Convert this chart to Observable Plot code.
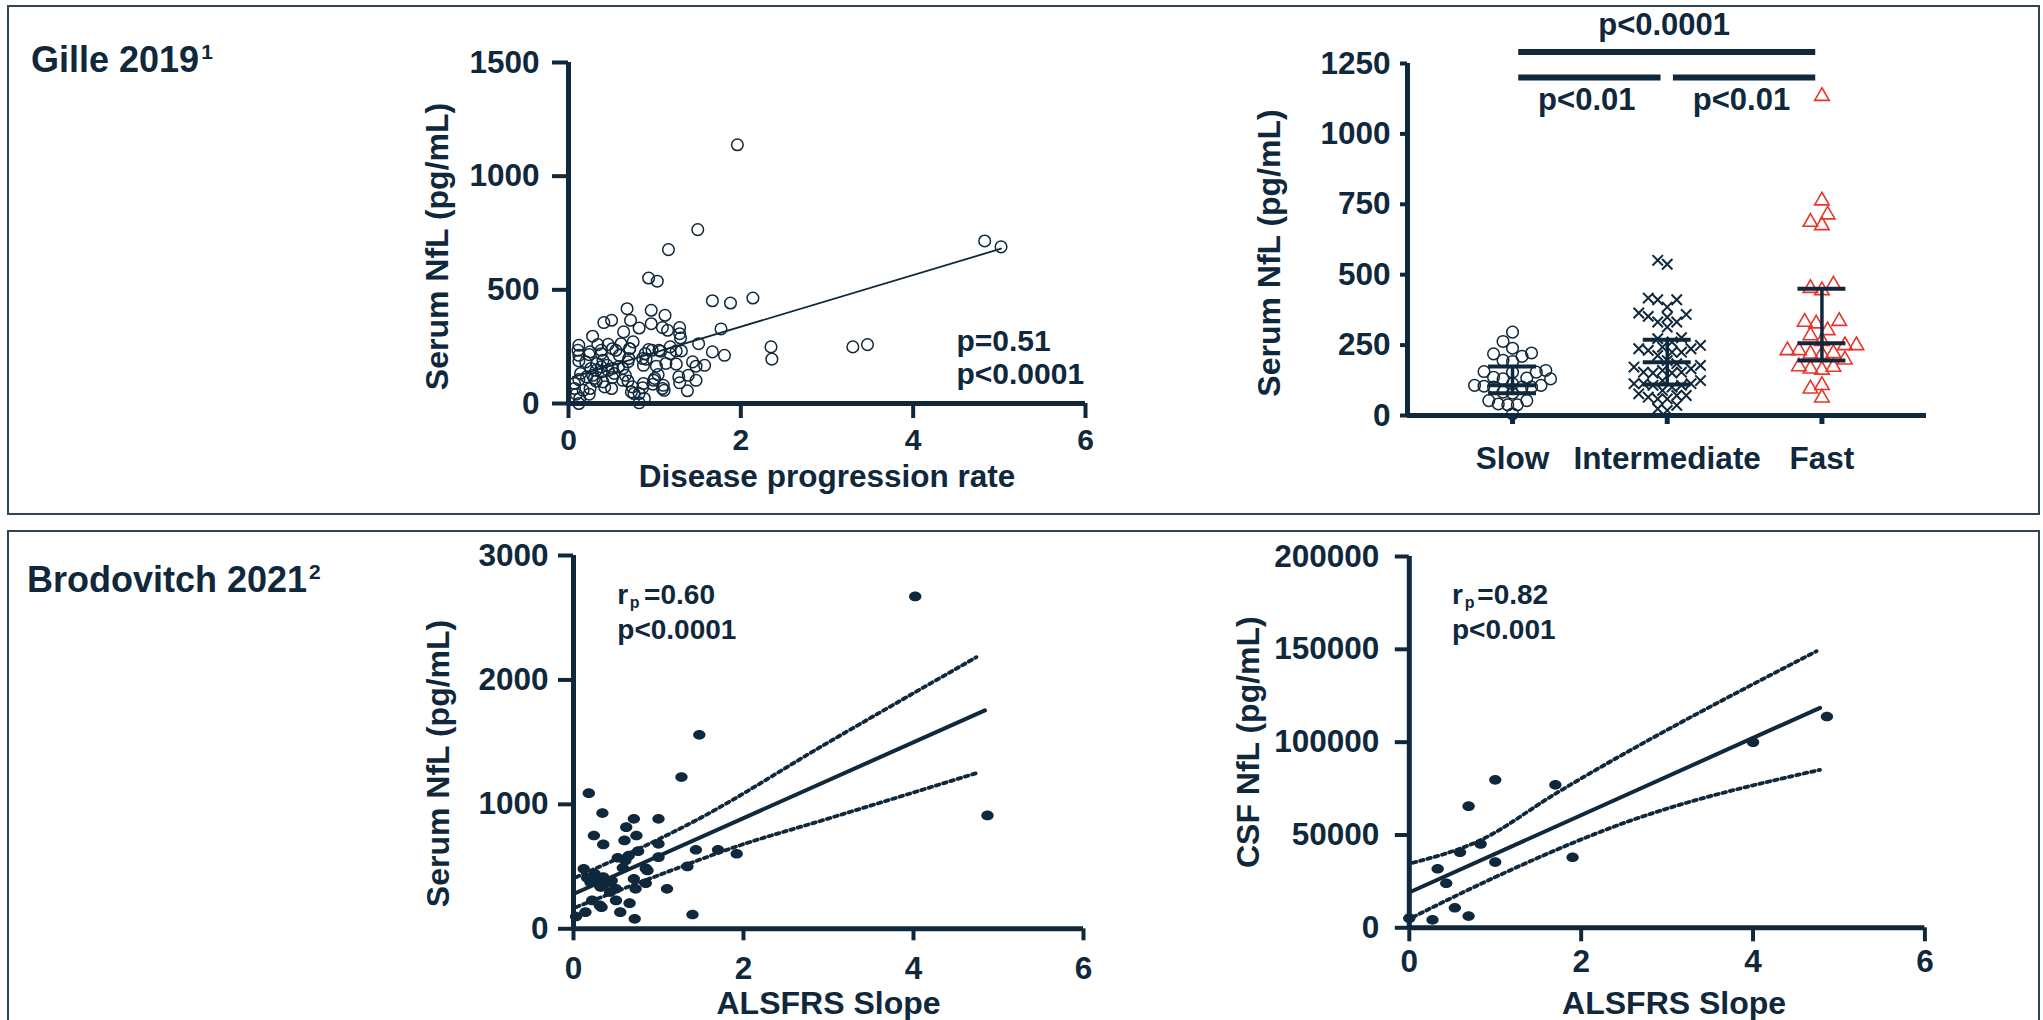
<!DOCTYPE html>
<html>
<head>
<meta charset="utf-8">
<script src="https://cdn.jsdelivr.net/npm/d3@7"></script>
<script src="https://cdn.jsdelivr.net/npm/@observablehq/plot@0.6"></script>
<style>
  html, body { margin: 0; padding: 0; background: #fff; }
  #page { position: relative; width: 2043px; height: 1020px; overflow: hidden; background: #fff;
          font-family: 'Liberation Sans', Arial, Helvetica, sans-serif; color: #10283b; }
  .box { position: absolute; box-sizing: border-box; border: 2px solid #2f4456; }
  .panel { position: absolute; }
  .study { position: absolute; font-weight: bold; font-size: 36px; line-height: 36px; white-space: nowrap; }
  .study span { font-size: 21px; vertical-align: 13px; margin-left: 2px; }
</style>
</head>
<body>
<div id="page">
  <div class="box" style="left:7px;top:5px;width:2033px;height:510px;"></div>
  <div class="box" style="left:7px;top:530px;width:2033px;height:520px;"></div>
  <div class="study" style="left:31px;top:34px;">Gille 2019<span>1</span></div>
  <div class="study" style="left:27px;top:554px;">Brodovitch 2021<span>2</span></div>
</div>
<script>
// ---------------- DATA ----------------
// Gille 2019 – serum NfL vs disease progression rate
const gilleRate = [1.96,1.50,1.16,4.83,5.02,0.93,1.03,1.67,1.88,2.14,0.68,0.96,0.41,0.50,0.72,1.12,0.82,0.96,1.09,1.15,
  1.29,1.29,1.30,1.77,0.64,0.28,0.75,0.34,0.46,1.51,2.35,3.30,3.47,2.36,0.11,0.24,0.12,0.38,0.40,0.55,
  0.59,0.71,0.70,0.93,0.97,1.07,1.18,1.25,1.31,1.67,1.81,0.86,0.90,0.87,1.02,1.13,1.25,1.48,1.58,0.26,
  0.32,0.38,0.46,0.51,0.63,0.69,1.04,0.12,0.21,0.28,0.32,0.42,0.51,0.50,0.63,0.69,0.99,0.98,1.09,1.11,
  1.29,1.38,1.48,0.86,0.73,0.76,0.07,0.09,0.17,0.24,0.13,0.88,0.82,0.12,
  0.12,0.12,0.25,0.38,0.51,0.61,0.71,0.89,1.05,1.18,0.20,0.33,0.45,0.58,0.38,0.53,0.66,0.14,0.30,0.40,
  0.74,0.87,1.00,1.10,1.28,1.44,1.39,0.07,0.25,0.82];
const gilleNfL = [1138,765,677,715,689,552,538,452,442,464,417,410,356,366,366,388,332,351,334,322,
  334,307,288,328,315,296,271,259,260,263,249,249,259,195,234,215,187,219,190,234,
  212,241,198,237,234,230,219,231,231,227,212,198,195,168,164,176,173,164,168,154,
  146,161,146,154,154,183,127,105,117,124,98,73,114,66,102,99,102,85,66,58,
  91,56,102,69,51,44,66,41,58,41,22,22,3,0,
  256,212,227,234,241,263,241,219,234,249,183,176,168,161,139,132,124,132,110,95,
  73,88,110,80,117,183,124,88,66,44];
const gilleFitRate = [0.05, 5.02];
const gilleFitNfL = [116, 681];
const gilleXTicks = [0, 2, 4, 6];
const gilleYTicks = [0, 500, 1000, 1500];
const gilleStats = ["p=0.51", "p<0.0001"];

// Gille 2019 – serum NfL by progression group
const groups = ["Slow", "Intermediate", "Fast"];
const slowNfL = [296,263,239,219,210,222,196,192,160,154,154,156,133,130,136,107,101,101,107,101,104,83,79,53,41,38,38,53,6,113,130];
const intermediateNfL = [551,537,417,411,411,385,364,359,352,349,332,332,314,276,273,261,249,243,237,237,231,225,225,213,195,184,
  178,172,166,160,154,154,151,151,124,124,113,113,113,107,107,101,89,77,71,71,65,59,59,36,24,18];
const fastNfL = [1134,763,713,687,675,464,452,444,335,332,326,302,284,264,249,249,231,231,221,219,217,198,174,172,166,162,107,95,63];
const groupQ1 = [79, 110, 195];
const groupMedian = [107, 189, 257];
const groupQ3 = [174, 269, 450];
const groupYTicks = [0, 250, 500, 750, 1000, 1250];
const bracketFrom = [1, 1, 2];
const bracketTo = [3, 2, 3];
const bracketLevel = [1291, 1200, 1200];
const bracketLabel = ["p<0.0001", "p<0.01", "p<0.01"];
const bracketLabelLevel = [1350, 1084, 1084];

// Brodovitch 2021 – serum NfL vs ALSFRS slope
const serumSlope = [4.02,1.48,1.27,4.87,0.18,0.34,0.71,1.00,0.62,0.24,0.74,0.60,0.35,1.00,0.76,0.65,1.00,0.52,1.44,1.70,
  1.92,1.34,0.12,0.58,0.87,0.25,0.16,0.28,0.35,0.41,0.71,0.85,0.31,0.50,0.73,1.10,0.43,0.22,0.50,0.66,
  0.31,0.33,0.55,0.14,0.72,1.40,0.03,0.20,0.37,0.45,0.85,0.61,0.32];
const serumNfL = [2671,1559,1219,911,1090,930,884,884,817,750,750,710,678,683,624,589,576,571,635,635,
  603,501,482,490,469,442,410,394,415,375,402,367,348,321,321,321,295,228,228,206,
  188,174,134,134,80,115,99,375,362,388,485,549,335];
const serumFitSlope = [0.0, 4.84];
const serumFitNfL = [280, 1755];
const serumUpperSlope = [0.03, 1.44, 2.97, 4.74];
const serumUpperNfL = [415, 871, 1487, 2183];
const serumLowerSlope = [0.03, 1.00, 1.92, 2.97, 4.74];
const serumLowerNfL = [174, 430, 662, 880, 1251];
const serumYTicks = [0, 1000, 2000, 3000];
const slopeTicks = [0, 2, 4, 6];

// Brodovitch 2021 – CSF NfL vs ALSFRS slope
const csfSlope = [4.86,4.00,1.00,1.70,0.69,0.83,0.59,1.90,1.00,0.33,0.43,0.53,0.69,0.27,0.00];
const csfNfL = [113800,100000,79700,77000,65500,45200,40700,38000,35400,31800,24000,10800,6300,4300,5200];
const csfFitSlope = [0.03, 4.78];
const csfFitNfL = [19700, 118500];
const csfUpperSlope = [0.04, 0.82, 1.70, 4.74];
const csfUpperNfL = [35000, 47000, 72200, 149000];
const csfLowerSlope = [0.04, 1.00, 2.47, 4.78];
const csfLowerNfL = [5700, 27300, 56000, 85100];
const csfYTicks = [0, 50000, 100000, 150000, 200000];

// ---------------- RENDER ----------------
const navy = "#10283b";
const red = "#e8342b";
const FONT = "'Liberation Sans', Arial, Helvetica, sans-serif";
const page = document.getElementById("page");
const fmt = d3.format("d");
const DOTTED = "3.6 4";
const TITLE = 32;
// slightly flattened filled marker, as in the reference
const ellipse = {
  draw(ctx, size) {
    const r = Math.sqrt(size / Math.PI), rx = r * 1.12, ry = r * 0.88, k = 0.5523;
    ctx.moveTo(rx, 0);
    ctx.bezierCurveTo(rx, ry * k, rx * k, ry, 0, ry);
    ctx.bezierCurveTo(-rx * k, ry, -rx, ry * k, -rx, 0);
    ctx.bezierCurveTo(-rx, -ry * k, -rx * k, -ry, 0, -ry);
    ctx.bezierCurveTo(rx * k, -ry, rx, -ry * k, rx, 0);
    ctx.closePath();
  }
};

function baseStyle() {
  return {fontFamily: FONT, fontSize: "31.5px", fontWeight: "bold", color: navy,
          background: "transparent", overflow: "visible", maxWidth: "none"};
}
function mount(svg, left, top) {
  const d = document.createElement("div");
  d.className = "panel";
  d.style.left = left + "px";
  d.style.top = top + "px";
  d.appendChild(svg);
  page.appendChild(d);
}
const pts = (xs, ys) => xs.map((x, i) => ({x, y: ys[i]}));
const txt = (s, o) => Plot.text([s], {text: d => d, fill: navy, ...o});
const yTitle = (s, dx, dy) => txt(s, {frameAnchor: "left", rotate: -90, dx, dy, fontSize: TITLE, textAnchor: "middle", lineAnchor: "middle"});
const note = (s, dx, dy, size) => txt(s, {frameAnchor: "top-left", textAnchor: "start", lineAnchor: "bottom", dx, dy, fontSize: size});

// ---- Panel 1: Gille scatter ----
{
  const W = 800, H = 500, ML = 238, MR = 45, MT = 52, MB = 107;
  const svg = Plot.plot({
    width: W, height: H, marginLeft: ML, marginRight: MR, marginTop: MT, marginBottom: MB,
    style: baseStyle(),
    x: {domain: [0, 6]}, y: {domain: [0, 1500]},
    marks: [
      Plot.ruleY([0], {x1: 0, x2: 6, stroke: navy, strokeWidth: 5}),
      Plot.ruleX([0], {y1: 0, y2: 1500, stroke: navy, strokeWidth: 5}),
      Plot.axisY(gilleYTicks, {tickFormat: fmt, tickSize: 16, tickPadding: 13, stroke: navy, strokeWidth: 4, label: null}),
      Plot.axisX(gilleXTicks, {tickFormat: fmt, tickSize: 15, tickPadding: 10, fontSize: 30, stroke: navy, strokeWidth: 4, label: null}),
      Plot.line(pts(gilleFitRate, gilleFitNfL), {x: "x", y: "y", stroke: navy, strokeWidth: 1.8}),
      Plot.dot(pts(gilleRate, gilleNfL), {x: "x", y: "y", r: 5.8, stroke: navy, strokeWidth: 1.5, fill: "none"}),
      txt("Disease progression rate", {frameAnchor: "bottom", lineAnchor: "bottom", dy: 83, fontSize: 31.5}),
      yTitle("Serum NfL (pg/mL)", -130.5, 13.5),
      note(gilleStats[0], 388, 288, 30),
      note(gilleStats[1], 388, 321, 30)
    ]
  });
  mount(svg, 330, 10);
}

// ---- Panel 2: Gille groups ----
{
  const W = 800, H = 510, ML = 197, MR = 84, MT = 63, MB = 95;
  const xDomain = [0.321, 3.676], yDomain = [0, 1250];
  const pxX = (W - ML - MR) / (xDomain[1] - xDomain[0]);
  const pxY = (H - MT - MB) / (yDomain[1] - yDomain[0]);
  // symmetric beeswarm layout computed from the values
  function dodge(values, center, minDist) {
    const step = minDist / 2;
    const order = d3.range(values.length).sort((a, b) => values[a] - values[b]);
    const placed = [];
    const out = new Array(values.length);
    for (const i of order) {
      const py = values[i] * pxY;
      for (let k = 0; k < 200; k++) {
        const off = (k % 2 === 0 ? 1 : -1) * Math.ceil(k / 2) * step;
        if (placed.every(p => Math.hypot(p.px - off, p.py - py) >= minDist - 1e-6)) {
          placed.push({px: off, py});
          out[i] = {x: center + off / pxX, y: values[i]};
          break;
        }
      }
    }
    return out;
  }
  const slowPts = dodge(slowNfL, 1, 9.5);
  const intPts = dodge(intermediateNfL, 2, 9.5);
  const fastPts = dodge(fastNfL, 3, 11.5);
  const bars = [];
  groups.forEach((g, i) => {
    for (const v of [groupQ1[i], groupMedian[i], groupQ3[i]]) bars.push({x1: i + 1 - 0.155, x2: i + 1 + 0.155, y: v});
  });
  const whiskers = groups.map((g, i) => ({x: i + 1, y1: groupQ1[i], y2: groupQ3[i]}));
  const brackets = bracketFrom.map((f, i) => ({x1: f + 0.04, x2: bracketTo[i] - 0.04, y: bracketLevel[i]}));
  const bracketTexts = bracketFrom.map((f, i) => ({x: (f + bracketTo[i]) / 2 - 0.02, y: bracketLabelLevel[i], t: bracketLabel[i]}));
  const svg = Plot.plot({
    width: W, height: H, marginLeft: ML, marginRight: MR, marginTop: MT, marginBottom: MB,
    style: baseStyle(),
    x: {domain: xDomain}, y: {domain: yDomain},
    marks: [
      Plot.ruleY([0], {x1: xDomain[0], x2: xDomain[1], stroke: navy, strokeWidth: 5}),
      Plot.ruleX([xDomain[0]], {y1: 0, y2: 1250, stroke: navy, strokeWidth: 5}),
      Plot.axisY(groupYTicks, {tickFormat: fmt, tickSize: 7, tickPadding: 10, stroke: navy, strokeWidth: 4, label: null}),
      Plot.axisX([1, 2, 3], {tickFormat: d => groups[d - 1], tickSize: 9, tickPadding: 22, stroke: navy, strokeWidth: 5, label: null}),
      Plot.dot(slowPts, {x: "x", y: "y", r: 5.8, stroke: navy, strokeWidth: 1.5, fill: "none"}),
      Plot.dot(intPts, {x: "x", y: "y", r: 4.8, symbol: "times", stroke: navy, strokeWidth: 2}),
      Plot.dot(fastPts, {x: "x", y: "y", r: 5.4, symbol: "triangle", stroke: red, strokeWidth: 1.6, fill: "none"}),
      Plot.ruleX(whiskers, {x: "x", y1: "y1", y2: "y2", stroke: navy, strokeWidth: 3.5}),
      Plot.ruleY(bars, {x1: "x1", x2: "x2", y: "y", stroke: navy, strokeWidth: 4}),
      Plot.ruleY(brackets, {x1: "x1", x2: "x2", y: "y", stroke: navy, strokeWidth: 6}),
      Plot.text(bracketTexts, {x: "x", y: "y", text: "t", lineAnchor: "bottom", fontSize: 31, fill: navy}),
      yTitle("Serum NfL (pg/mL)", -138, 13.5)
    ]
  });
  mount(svg, 1210, 0);
}

// ---- Panel 3: Brodovitch serum ----
{
  const W = 800, H = 500, ML = 243, MR = 47, MT = 35, MB = 91.7;
  const svg = Plot.plot({
    width: W, height: H, marginLeft: ML, marginRight: MR, marginTop: MT, marginBottom: MB,
    style: baseStyle(),
    x: {domain: [0, 6]}, y: {domain: [0, 3000]},
    marks: [
      Plot.ruleY([0], {x1: 0, x2: 6, stroke: navy, strokeWidth: 5}),
      Plot.ruleX([0], {y1: 0, y2: 3000, stroke: navy, strokeWidth: 5}),
      Plot.axisY(serumYTicks, {tickFormat: fmt, tickSize: 15, tickPadding: 10, stroke: navy, strokeWidth: 4, label: null}),
      Plot.axisX(slopeTicks, {tickFormat: fmt, tickSize: 12, tickPadding: 16, stroke: navy, strokeWidth: 4, label: null}),
      Plot.line(pts(serumUpperSlope, serumUpperNfL), {x: "x", y: "y", stroke: navy, strokeWidth: 3.8, strokeDasharray: DOTTED, curve: "monotone-x"}),
      Plot.line(pts(serumLowerSlope, serumLowerNfL), {x: "x", y: "y", stroke: navy, strokeWidth: 3.8, strokeDasharray: DOTTED, curve: "monotone-x"}),
      Plot.line(pts(serumFitSlope, serumFitNfL), {x: "x", y: "y", stroke: navy, strokeWidth: 4}),
      Plot.dot(pts(serumSlope, serumNfL), {x: "x", y: "y", r: 5.5, symbol: ellipse, fill: navy}),
      txt("ALSFRS Slope", {frameAnchor: "bottom", lineAnchor: "bottom", dy: 85, fontSize: TITLE}),
      yTitle("Serum NfL (pg/mL)", -134.4, 21.3),
      note("r", 43.8, 48, 28),
      note("p", 56.3, 52, 16),
      note("=0.60", 70.6, 48, 28),
      note("p<0.0001", 43.8, 83, 28)
    ]
  });
  mount(svg, 330, 520);
}

// ---- Panel 4: Brodovitch CSF ----
{
  const W = 800, H = 500, ML = 208.8, MR = 75.6, MT = 36, MB = 92.7;
  const svg = Plot.plot({
    width: W, height: H, marginLeft: ML, marginRight: MR, marginTop: MT, marginBottom: MB,
    style: baseStyle(),
    x: {domain: [0, 6]}, y: {domain: [0, 200000]},
    marks: [
      Plot.ruleY([0], {x1: 0, x2: 6, stroke: navy, strokeWidth: 5}),
      Plot.ruleX([0], {y1: 0, y2: 200000, stroke: navy, strokeWidth: 5}),
      Plot.axisY(csfYTicks, {tickFormat: fmt, tickSize: 14, tickPadding: 16, stroke: navy, strokeWidth: 4, label: null}),
      Plot.axisX(slopeTicks, {tickFormat: fmt, tickSize: 14, tickPadding: 8, stroke: navy, strokeWidth: 4, label: null}),
      Plot.line(pts(csfUpperSlope, csfUpperNfL), {x: "x", y: "y", stroke: navy, strokeWidth: 3.8, strokeDasharray: DOTTED, curve: "monotone-x"}),
      Plot.line(pts(csfLowerSlope, csfLowerNfL), {x: "x", y: "y", stroke: navy, strokeWidth: 3.8, strokeDasharray: DOTTED, curve: "monotone-x"}),
      Plot.line(pts(csfFitSlope, csfFitNfL), {x: "x", y: "y", stroke: navy, strokeWidth: 4}),
      Plot.dot(pts(csfSlope, csfNfL), {x: "x", y: "y", r: 5.5, symbol: ellipse, fill: navy}),
      txt("ALSFRS Slope", {frameAnchor: "bottom", lineAnchor: "bottom", dx: 7, dy: 86, fontSize: TITLE}),
      yTitle("CSF NfL (pg/mL)", -160.8, 0),
      note("r", 42.7, 47, 28),
      note("p", 55.5, 51, 16),
      note("=0.82", 68, 47, 28),
      note("p<0.001", 42.7, 82, 28)
    ]
  });
  mount(svg, 1200, 520);
}
</script>
</body>
</html>
